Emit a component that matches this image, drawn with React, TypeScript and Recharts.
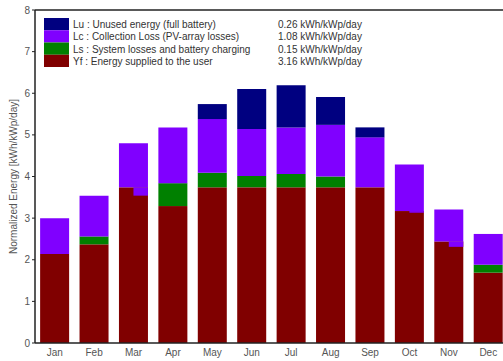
import { BarChart, Bar, XAxis, YAxis, Legend } from "recharts";

const months = ["Jan", "Feb", "Mar", "Apr", "May", "Jun", "Jul", "Aug", "Sep", "Oct", "Nov", "Dec"];
// Yf is drawn with a small step on some months (left half / right half)
const yf = [2.14, 2.37, 3.74, 3.29, 3.74, 3.74, 3.74, 3.74, 3.74, 3.17, 2.44, 1.69];
const yfRight = [2.14, 2.37, 3.54, 3.29, 3.74, 3.74, 3.74, 3.74, 3.74, 3.13, 2.31, 1.69];
const ls = [0, 0.19, 0, 0.55, 0.35, 0.27, 0.32, 0.26, 0, 0, 0, 0.19];
const lc = [0.86, 0.98, 1.06, 1.34, 1.29, 1.13, 1.12, 1.24, 1.2, 1.12, 0.77, 0.74];
const lu = [0, 0, 0, 0, 0.36, 0.96, 1.01, 0.67, 0.24, 0, 0, 0];

const legendLabels = [
  "Lu : Unused energy (full battery)",
  "Lc : Collection Loss (PV-array losses)",
  "Ls : System losses and battery charging",
  "Yf : Energy supplied to the user",
];
const legendValues = ["0.26 kWh/kWp/day", "1.08 kWh/kWp/day", "0.15 kWh/kWp/day", "3.16 kWh/kWp/day"];

const yTicks = [0, 1, 2, 3, 4, 5, 6, 7, 8];
const yMinorTicks = [0.5, 1.5, 2.5, 3.5, 4.5, 5.5, 6.5, 7.5];
const monthBounds = [1, 2, 3, 4, 5, 6, 7, 8, 9, 10, 11];

const COLORS = { lu: "#000080", lc: "#8000ff", ls: "#008000", yf: "#800000" };
const legendColors = [COLORS.lu, COLORS.lc, COLORS.ls, COLORS.yf];
const FONT = "'Liberation Sans', Arial, sans-serif";
const AXIS = "#222";

const data = months.map((m, i) => ({
  month: m,
  yf: yf[i],
  yfRight: yfRight[i],
  ls: ls[i],
  lc: lc[i],
  lu: lu[i],
}));

const YfShape = (props: any) => {
  const { x, y, width, height, payload, fill } = props;
  const ratio = payload.yf > 0 ? payload.yfRight / payload.yf : 1;
  const drop = height * (1 - ratio);
  const half = width / 2;
  return (
    <g>
      <rect x={x} y={y} width={width} height={height} fill={fill} />
      {drop > 0 && <rect x={x + half} y={y} width={half} height={drop} fill={COLORS.lc} />}
    </g>
  );
};

const renderLegend = () => (
  <svg width={340} height={50} style={{ display: "block", fontFamily: FONT }}>
    {legendLabels.map((label, i) => (
      <g key={label}>
        <rect x={0} y={i * 12.25} width={25} height={12.25} fill={legendColors[i]} />
        <text x={29} y={i * 12.25 + 10} fontSize={10} fill="#333">
          {label}
        </text>
        <text x={234} y={i * 12.25 + 10} fontSize={10} fill="#333">
          {legendValues[i]}
        </text>
      </g>
    ))}
  </svg>
);

export default function App() {
  return (
    <div
      style={{
        position: "fixed",
        left: 0,
        top: 0,
        width: 503,
        height: 361,
        overflow: "hidden",
        background: "#fff",
        fontFamily: FONT,
      }}
    >
      <BarChart
        width={512}
        height={361}
        data={data}
        margin={{ top: 10, right: 4, bottom: 0, left: 0 }}
        barCategoryGap="13%"
      >
        <XAxis
          dataKey="month"
          height={18}
          tickLine={false}
          tickSize={0}
          tickMargin={6}
          axisLine={{ stroke: AXIS, strokeWidth: 1.5 }}
          tick={{ fontSize: 10, fill: "#555", fontFamily: FONT }}
        />
        <XAxis
          xAxisId="bounds"
          type="number"
          domain={[0, 12]}
          allowDataOverflow
          ticks={monthBounds}
          orientation="bottom"
          mirror
          tick={false}
          axisLine={false}
          tickSize={4}
          tickLine={{ stroke: AXIS }}
        />
        <XAxis
          xAxisId="top"
          type="number"
          domain={[0, 12]}
          allowDataOverflow
          ticks={monthBounds}
          orientation="top"
          mirror
          tick={false}
          axisLine={{ stroke: AXIS, strokeWidth: 1.5 }}
          tickSize={4}
          tickLine={{ stroke: AXIS }}
        />
        <YAxis
          width={35}
          domain={[0, 8]}
          ticks={yTicks}
          interval={0}
          tickSize={3}
          tickMargin={2}
          axisLine={{ stroke: AXIS, strokeWidth: 1.5 }}
          tickLine={{ stroke: AXIS }}
          tick={{ fontSize: 10, fill: "#555", fontFamily: FONT }}
          label={{
            value: "Normalized Energy [kWh/kWp/day]",
            angle: -90,
            position: "insideLeft",
            offset: 13,
            style: { textAnchor: "middle", fontSize: 10, fill: "#555", fontFamily: FONT },
          }}
        />
        <YAxis
          yAxisId="minor"
          domain={[0, 8]}
          allowDataOverflow
          ticks={yMinorTicks}
          interval={0}
          mirror
          tick={false}
          axisLine={false}
          tickSize={3}
          tickLine={{ stroke: AXIS }}
        />
        <Legend
          content={renderLegend}
          layout="horizontal"
          verticalAlign="middle"
          align="center"
          wrapperStyle={{ left: 44, top: 18, width: 340, height: 50 }}
        />
        <Bar dataKey="yf" stackId="e" fill={COLORS.yf} shape={YfShape} isAnimationActive={false} />
        <Bar dataKey="ls" stackId="e" fill={COLORS.ls} isAnimationActive={false} />
        <Bar dataKey="lc" stackId="e" fill={COLORS.lc} isAnimationActive={false} />
        <Bar dataKey="lu" stackId="e" fill={COLORS.lu} isAnimationActive={false} />
      </BarChart>
    </div>
  );
}
